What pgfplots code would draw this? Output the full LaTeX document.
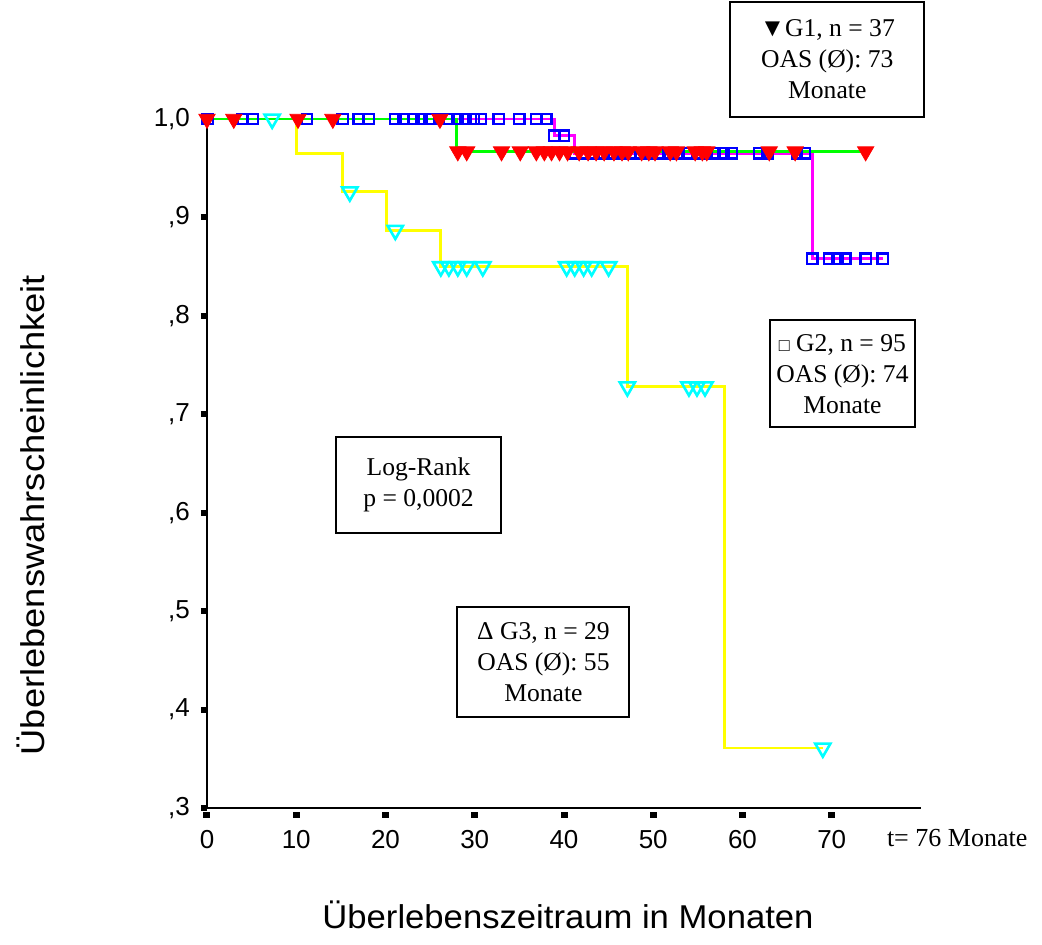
\documentclass[border=0pt]{standalone}
\usepackage{fontspec}
\setmainfont{Liberation Serif}
\newfontfamily\arialfont{Liberation Sans}
\newfontfamily\labelfont[FakeStretch=1.05]{Liberation Sans}
\newfontfamily\ylabelfont[FakeStretch=1.1]{Liberation Sans}
\usepackage{pgfplots}
\pgfplotsset{compat=1.18}
\definecolor{kmgreen}{RGB}{0,255,0}
\definecolor{kmmagenta}{RGB}{255,0,255}
\definecolor{kmyellow}{RGB}{255,255,0}
\definecolor{kmred}{RGB}{255,0,0}
\definecolor{kmblue}{RGB}{0,0,255}
\definecolor{kmcyan}{RGB}{0,255,255}
\begin{document}
\begin{tikzpicture}
\path[use as bounding box] (-103.5pt,-68.5pt) rectangle (417.5pt,404pt);
\begin{axis}[
  at={(0,0)}, anchor=south west,
  scale only axis, width=357pt, height=344.5pt,
  xmin=0, xmax=80, ymin=0.3, ymax=1.0,
  axis x line*=bottom, axis y line*=left,
  axis line style={line width=1.3pt, -},
  xtick={0,10,20,30,40,50,60,70},
  ytick={0.3,0.4,0.5,0.6,0.7,0.8,0.9,1.0},
  yticklabels={{,3},{,4},{,5},{,6},{,7},{,8},{,9},{1,0}},
  tick align=outside,
  major tick length=3pt,
  xtick style={line width=3.5pt, black, yshift=-2pt},
  ytick style={line width=3pt, black},
  /pgf/number format/assume math mode=true,
  xticklabel style={font=\arialfont\fontsize{13}{13}\selectfont, yshift=-4.5pt},
  yticklabel style={font=\arialfont\fontsize{13}{13}\selectfont, xshift=-2pt},
  xlabel={Überlebenszeitraum in Monaten},
  ylabel={Überlebenswahrscheinlichkeit},
  xlabel style={font=\labelfont\fontsize{16.5}{18}\selectfont, at={(axis description cs:0.5056,-0.155)}, anchor=center},
  ylabel style={font=\ylabelfont\fontsize{16.5}{18}\selectfont, at={(axis description cs:-0.2465,0.425)}, anchor=center},
  clip=false,
]
% lines
\addplot[const plot, kmyellow, line width=1.4pt] coordinates {
  (0,1) (10,0.965) (15.2,0.926) (20.1,0.887) (26.2,0.850) (47.1,0.728) (58.0,0.361) (69.0,0.361)};
\addplot[const plot, kmmagenta, line width=1.4pt] coordinates {
  (0,1) (38.9,0.983) (41.2,0.965) (67.8,0.858) (75.7,0.858)};
\addplot[const plot, kmgreen, line width=1.4pt] coordinates {
  (0,1) (28.0,0.967) (73.8,0.967)};
% G2 censored (blue squares)
\addplot[only marks, mark=square, mark size=2.6pt, kmblue, line width=1.2pt] coordinates {
  (0.1,1) (4.0,1) (5.1,1) (11.2,1) (15.2,1) (17.0,1) (18.1,1) (21.1,1) (22.0,1) (23.1,1)
  (24.0,1) (24.9,1) (26.0,1) (27.1,1) (28.1,1) (29.0,1) (29.9,1) (30.7,1) (32.7,1) (35.0,1)
  (36.9,1) (38.0,1)
  (38.9,0.983) (40.0,0.983)
  (41.2,0.965) (42.3,0.965) (43.3,0.965) (44.4,0.965) (45.4,0.965) (46.5,0.965) (47.5,0.965)
  (48.6,0.965) (49.6,0.965) (50.7,0.965) (51.7,0.965) (52.8,0.965) (53.8,0.965) (54.9,0.965)
  (56.0,0.965) (56.9,0.965) (57.9,0.965) (58.8,0.965) (61.9,0.965) (62.8,0.965) (66.1,0.965) (67.0,0.965)
  (67.8,0.858) (69.7,0.858) (70.6,0.858) (71.5,0.858) (73.8,0.858) (75.7,0.858)};
% G1 censored (red filled triangles)
\addplot[only marks, mark=triangle*, mark size=4.7pt, mark options={rotate=180}, kmred] coordinates {
  (0,1) (3.0,1) (10.2,1) (14.1,1) (26.1,1)
  (28.1,0.967) (29.1,0.967) (33.0,0.967) (35.1,0.967) (36.9,0.967) (37.8,0.967) (38.6,0.967)
  (39.5,0.967) (40.4,0.967) (41.7,0.967) (42.7,0.967) (43.6,0.967) (44.5,0.967) (45.6,0.967)
  (46.5,0.967) (47.2,0.967) (48.7,0.967) (49.5,0.967) (50.2,0.967) (51.9,0.967) (52.6,0.967)
  (54.7,0.967) (55.5,0.967) (56.0,0.967) (63.0,0.967) (65.9,0.967) (73.8,0.967)};
% G3 censored (cyan open triangles)
\addplot[only marks, mark=triangle, mark size=4.4pt, mark options={rotate=180}, kmcyan, line width=1.3pt] coordinates {
  (7.3,1) (16.0,0.926) (21.1,0.887)
  (26.2,0.850) (27.1,0.850) (28.1,0.850) (29.1,0.850) (30.9,0.850)
  (40.3,0.850) (41.2,0.850) (42.2,0.850) (43.1,0.850) (45.0,0.850)
  (47.1,0.728) (54.0,0.728) (54.9,0.728) (55.8,0.728)
  (69.0,0.361)};
% annotation boxes
\node[draw, line width=1pt, fill=white, align=center, minimum width=97pt, minimum height=57.5pt,
  font=\fontsize{12.8}{15.5}\selectfont] at (axis cs:69.5,1.0605) {▼G1, n = 37\\OAS (Ø): 73\\Monate};
\node[draw, line width=1pt, fill=white, align=center, minimum width=64pt, minimum height=53.5pt,
  font=\fontsize{12.8}{15.5}\selectfont] at (axis cs:71.2,0.741) {{\fontsize{9}{10}\selectfont □} G2, n = 95\\OAS (Ø): 74\\Monate};
\node[draw, line width=1pt, fill=white, align=center, minimum width=82.5pt, minimum height=48pt,
  font=\fontsize{12.8}{15.5}\selectfont] at (axis cs:23.7,0.628) {Log-Rank\\p = 0,0002};
\node[draw, line width=1pt, fill=white, align=center, minimum width=86pt, minimum height=55pt,
  font=\fontsize{12.8}{15.5}\selectfont] at (axis cs:37.7,0.448) {Δ G3, n = 29\\OAS (Ø): 55\\Monate};
\node[anchor=west, font=\fontsize{13}{14}\selectfont, yshift=-15pt] at (axis cs:75.4,0.3) {t= 76 Monate};
\end{axis}
\end{tikzpicture}
\end{document}
